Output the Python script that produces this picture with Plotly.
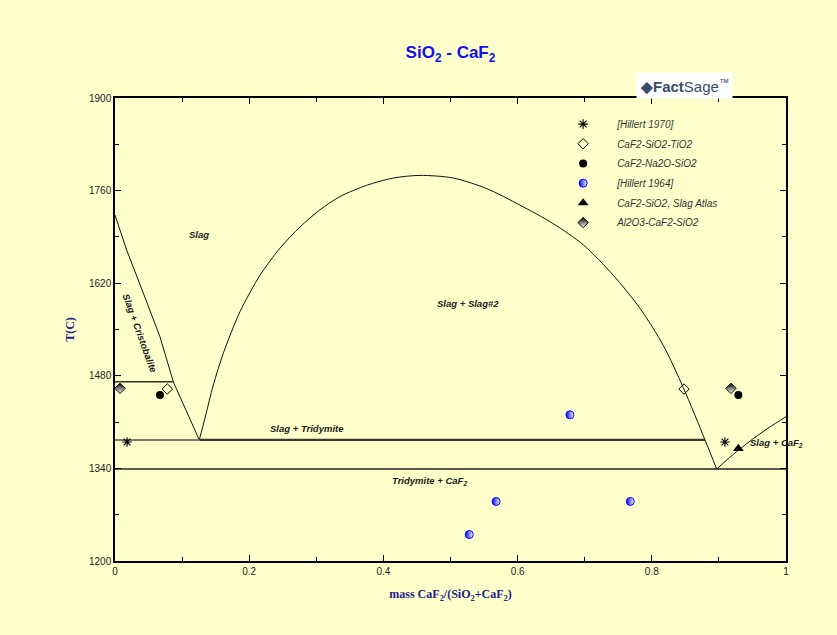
import plotly.graph_objects as go

# ---------------- data ----------------
# Phase boundaries (x = mass CaF2/(SiO2+CaF2), T in C)
cristo_x = [0.0, 0.0174, 0.0422, 0.067, 0.0869, 0.1256]
cristo_T = [1723, 1670, 1605, 1539, 1471, 1383]

dome_x = [0.1256, 0.1341, 0.1465, 0.1614, 0.1863, 0.2161, 0.2459, 0.2757, 0.3055,
          0.3353, 0.3751, 0.4148, 0.4545, 0.5042, 0.554, 0.6036, 0.6532, 0.698,
          0.7426, 0.7824, 0.8171, 0.847, 0.8793, 0.8967]
dome_T = [1383, 1416, 1466, 1514, 1577, 1632, 1673, 1705, 1731,
          1751, 1768, 1779, 1783, 1779, 1763, 1738, 1710, 1678,
          1632, 1582, 1526, 1462, 1383, 1339]

caf2_x = [0.8967, 0.92, 0.95, 0.975, 1.0]
caf2_T = [1339, 1360, 1384, 1402, 1418]

cristo_trans_x = [0.0, 0.0869]
cristo_trans_T = [1471, 1471]
eut_left_x = [0.0, 0.1256]
eut_left_T = [1383, 1383]
eut_x = [0.1256, 0.8793]
eut_T = [1383, 1383]
low_x = [0.0, 1.0]
low_T = [1339, 1339]

# Experimental points
hill70_x = [0.018, 0.909]
hill70_T = [1380, 1380]
tio2_x = [0.078, 0.848]
tio2_T = [1460, 1460]
na2o_x = [0.067, 0.929]
na2o_T = [1451, 1451]
hill64_x = [0.678, 0.568, 0.768, 0.528]
hill64_T = [1421, 1290, 1290, 1240]
atlas_x = [0.929]
atlas_T = [1370]
al2o3_x = [0.0075, 0.918]
al2o3_T = [1461, 1461]

series_names = ["[Hillert 1970]", "CaF2-SiO2-TiO2", "CaF2-Na2O-SiO2",
                "[Hillert 1964]", "CaF2-SiO2, Slag Atlas", "Al2O3-CaF2-SiO2"]

# Region labels
label_text = ["Slag", "Slag + Slag#2", "Slag + Tridymite", "Tridymite + CaF<sub>2</sub>",
              "Slag + CaF<sub>2</sub>", "Slag + Cristobalite"]
label_x = [0.125, 0.5256, 0.2857, 0.469, 0.986, 0.0373]
label_T = [1693, 1590, 1401, 1321, 1379, 1544]
label_angle = [0, 0, 0, 0, 0, 70]

x_ticks = [0, 0.2, 0.4, 0.6, 0.8, 1]
y_ticks = [1200, 1340, 1480, 1620, 1760, 1900]

# ---------------- figure ----------------
BG = "#FFFFCC"
SANS = "Liberation Sans, Arial, sans-serif"
SERIF = "Liberation Serif, Times New Roman, serif"

fig = go.Figure()

def line(x, y, color="black", width=1, shape="linear"):
    fig.add_trace(go.Scatter(x=x, y=y, mode="lines", showlegend=False,
                             hoverinfo="skip",
                             line=dict(color=color, width=width, shape=shape,
                                       smoothing=0.8 if shape == "spline" else None)))

line(cristo_x, cristo_T, "#111111", 1)
line(dome_x, dome_T, "#111111", 1, "spline")
line(caf2_x, caf2_T, "#111111", 1, "spline")
line(cristo_trans_x, cristo_trans_T, "#333322", 1.6)
line(eut_left_x, eut_left_T, "#7a7a66", 2)
line(eut_x, eut_T, "#3a3a2e", 2.2)
line(low_x, low_T, "#222222", 1.6)

MS = 8
fig.add_trace(go.Scatter(x=hill70_x, y=hill70_T, mode="markers", name=series_names[0],
                         legendgroup="g1",
                         marker=dict(symbol="asterisk-open", size=MS, color="black",
                                     line=dict(color="black", width=1.1))))
fig.add_trace(go.Scatter(x=tio2_x, y=tio2_T, mode="markers", name=series_names[1],
                         legendgroup="g2",
                         marker=dict(symbol="diamond-open", size=MS, color="black",
                                     line=dict(color="black", width=1))))
fig.add_trace(go.Scatter(x=na2o_x, y=na2o_T, mode="markers", name=series_names[2],
                         legendgroup="g3",
                         marker=dict(symbol="circle", size=MS, color="black",
                                     line=dict(width=0))))
fig.add_trace(go.Scatter(x=hill64_x, y=hill64_T, mode="markers", name=series_names[3],
                         legendgroup="g4",
                         marker=dict(symbol="circle", size=MS, color="#0000FF",
                                     gradient=dict(type="horizontal", color="white"),
                                     line=dict(color="#0000FF", width=1))))
fig.add_trace(go.Scatter(x=atlas_x, y=atlas_T, mode="markers", name=series_names[4],
                         legendgroup="g5",
                         marker=dict(symbol="triangle-up", size=9.5, color="black",
                                     line=dict(width=0))))
fig.add_trace(go.Scatter(x=al2o3_x, y=al2o3_T, mode="markers", name=series_names[5],
                         legendgroup="g6",
                         marker=dict(symbol="diamond", size=MS, color="black",
                                     gradient=dict(type="vertical", color="white"),
                                     line=dict(color="black", width=1))))

for t, x, y, a in zip(label_text, label_x, label_T, label_angle):
    fig.add_annotation(x=x, y=y, text="<b><i>" + t + "</i></b>", showarrow=False,
                       textangle=a, font=dict(family=SANS, size=9.5, color="#1a1a1a"))

# FactSage logo (text approximation)
fig.add_annotation(xref="paper", yref="paper", x=0.921, y=1.056,
                   text="<b>◆Fact</b>Sage<sup>™</sup>", showarrow=False,
                   bgcolor="white", borderpad=3,
                   font=dict(family=SANS, size=15, color="#3b4a6b"))

axis_common = dict(showline=True, linecolor="black", linewidth=1.5, mirror="allticks",
                   ticks="inside", ticklen=6, tickwidth=1, tickcolor="black",
                   showgrid=False, zeroline=False,
                   tickfont=dict(family=SANS, size=10, color="#222222"))

fig.update_xaxes(range=[0, 1], tickmode="array", tickvals=x_ticks,
                 ticktext=[f"{v:g}" for v in x_ticks],
                 minor=dict(dtick=0.1, tick0=0, ticks="inside", ticklen=4, tickcolor="black"),
                 title=dict(text="<b>mass CaF<sub>2</sub>/(SiO<sub>2</sub>+CaF<sub>2</sub>)</b>",
                            font=dict(family=SERIF, size=12, color="#22228a"), standoff=14),
                 **axis_common)
fig.update_yaxes(range=[1200, 1900], tickmode="array", tickvals=y_ticks,
                 minor=dict(dtick=70, tick0=1200, ticks="inside", ticklen=4, tickcolor="black"),
                 title=dict(text="<b>T(C)</b>",
                            font=dict(family=SERIF, size=12, color="#22228a"), standoff=12),
                 **axis_common)

fig.update_layout(
    width=837, height=635,
    margin=dict(l=115, r=51, t=98, b=74),
    paper_bgcolor=BG, plot_bgcolor=BG,
    title=dict(text="<b>SiO<sub>2</sub> - CaF<sub>2</sub></b>", x=0.5, xref="paper",
               y=0.918, yanchor="middle",
               font=dict(family=SANS, size=17, color="#1010F0")),
    legend=dict(x=0.647, y=0.975, xanchor="left", yanchor="top",
                bgcolor="rgba(0,0,0,0)", itemwidth=58, tracegroupgap=0.7,
                font=dict(family=SANS, size=10, color="#333333", style="italic"),
                itemclick=False),
    showlegend=True,
)

fig.write_html("out.html")
